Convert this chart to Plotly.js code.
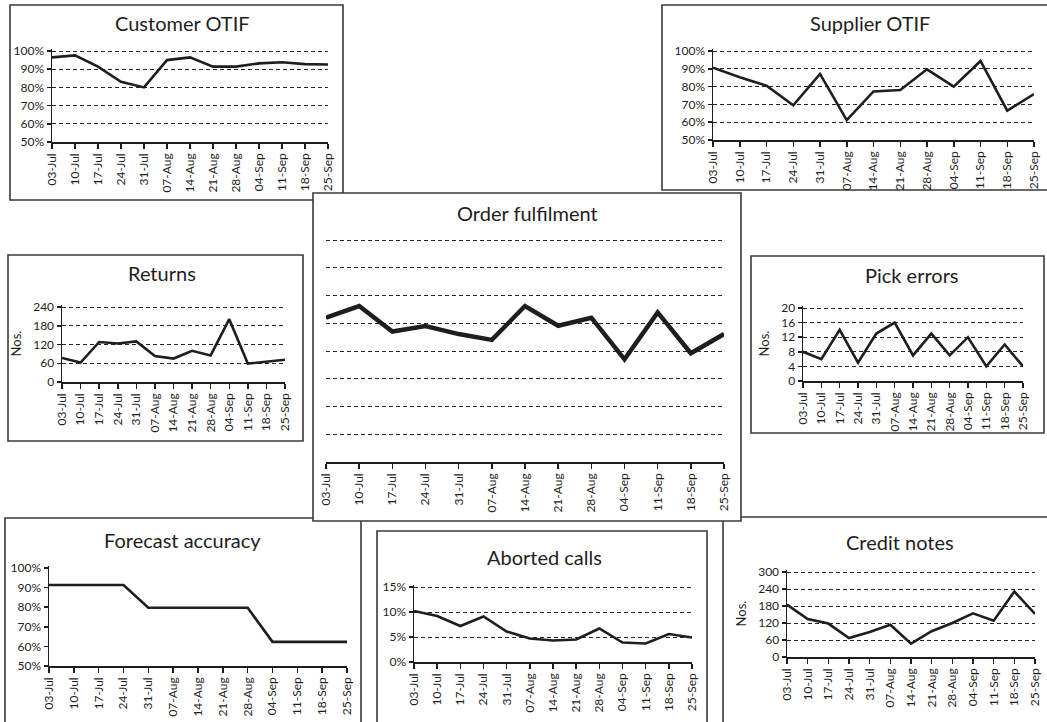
<!DOCTYPE html>
<html>
<head>
<meta charset="utf-8">
<script src="https://cdn.plot.ly/plotly-3.0.1.min.js"></script>
<style>html,body{margin:0;padding:0;background:#fff;}#chart{width:1047px;height:722px;}</style>
</head>
<body>
<div id="chart"></div>
<script>
const weeks = ['03-Jul','10-Jul','17-Jul','24-Jul','31-Jul','07-Aug','14-Aug','21-Aug','28-Aug','04-Sep','11-Sep','18-Sep','25-Sep'];

const customerOTIF = [0.965, 0.976, 0.914, 0.831, 0.800, 0.950, 0.965, 0.914, 0.914, 0.932, 0.938, 0.928, 0.926];
const supplierOTIF = [0.906, 0.852, 0.805, 0.695, 0.871, 0.612, 0.773, 0.781, 0.897, 0.800, 0.944, 0.665, 0.758];
const returnsNos   = [77, 62, 128, 123, 130, 83, 75, 100, 85, 201, 59, 65, 71];
const orderFulfil  = [5.2, 5.62, 4.70, 4.90, 4.61, 4.40, 5.62, 4.91, 5.20, 3.70, 5.39, 3.92, 4.61];
const pickErrors   = [8, 6, 14, 5, 13, 16, 7, 13, 7, 12, 4, 10, 4];
const forecastAcc  = [0.913, 0.913, 0.913, 0.913, 0.797, 0.797, 0.797, 0.797, 0.797, 0.623, 0.623, 0.623, 0.623];
const abortedCalls = [0.102, 0.092, 0.072, 0.091, 0.061, 0.047, 0.043, 0.045, 0.067, 0.039, 0.037, 0.056, 0.049];
const creditNotes  = [185, 134, 118, 67, 88, 114, 47, 91, 120, 154, 128, 231, 152];

const titles = ['Customer OTIF','Supplier OTIF','Returns','Order fulfilment','Pick errors','Forecast accuracy','Aborted calls','Credit notes'];

const W = 1047, H = 722;
const FONT = 'Lato, "Open Sans", sans-serif';
const INK = '#1e1e1e';
const PAD = 2; // px of headroom so the top gridline is drawn

// panel geometry in pixels: plot area [x0,x1],[y0(top value),y1(bottom)]
const panels = [
  {data: customerOTIF, x:[52,328],  y:[51,142],  range:[0.5,1],   dtick:0.1,  fmt:'.0%', title:[182,23],  lw:2.6},
  {data: supplierOTIF, x:[713,1034],y:[51,140],  range:[0.5,1],   dtick:0.1,  fmt:'.0%', title:[870,23],  lw:2.6},
  {data: returnsNos,   x:[62,285],  y:[307,382], range:[0,240],   dtick:60,   fmt:'',    title:[162,273], lw:2.6, nos:true},
  {data: orderFulfil,  x:[326,724], y:[240,462], range:[0,8],     dtick:1,    fmt:'',    title:[527,213], lw:4.5, hideY:true},
  {data: pickErrors,   x:[803,1023],y:[308,381], range:[0,20],    dtick:4,    fmt:'',    title:[912,275], lw:2.6, nos:true},
  {data: forecastAcc,  x:[49,347],  y:[568,666], range:[0.5,1],   dtick:0.1,  fmt:'.0%', title:[182,540], lw:2.6, noGrid:true},
  {data: abortedCalls, x:[414,692], y:[587,662], range:[0,0.15],  dtick:0.05, fmt:'.0%', title:[544,557], lw:2.6},
  {data: creditNotes,  x:[787,1035],y:[572,657], range:[0,300],   dtick:60,   fmt:'',    title:[900,542], lw:2.6, nos:true}
];

const traces = [];
const layout = {
  width: W, height: H,
  margin: {l:0, r:0, t:0, b:0},
  paper_bgcolor: '#fff',
  plot_bgcolor: 'rgba(0,0,0,0)',
  showlegend: false,
  font: {family: FONT, color: INK, size: 12},
  annotations: [],
  shapes: []
};

panels.forEach((p, i) => {
  const n = i + 1;
  const xk = n === 1 ? 'xaxis' : 'xaxis' + n;
  const yk = n === 1 ? 'yaxis' : 'yaxis' + n;
  const xr = n === 1 ? 'x' : 'x' + n;
  const yr = n === 1 ? 'y' : 'y' + n;
  traces.push({
    x: weeks, y: p.data, xaxis: xr, yaxis: yr,
    type: 'scatter', mode: 'lines',
    line: {color: INK, width: p.lw},
    hoverinfo: 'x+y'
  });
  layout[xk] = {
    domain: [p.x[0] / W, p.x[1] / W], anchor: yr,
    type: 'category', range: [0, weeks.length - 1],
    tickangle: -90, ticks: 'outside', ticklen: 5, tickwidth: 1.5, tickcolor: INK,
    showline: true, linecolor: INK, linewidth: 1.5,
    showgrid: false, zeroline: false, fixedrange: true,
    tickfont: {family: FONT, size: 12, color: INK}
  };
  const hpx = p.y[1] - p.y[0];
  const span = p.range[1] - p.range[0];
  const top = p.range[1] + span * PAD / hpx;
  const ya = {
    domain: [1 - p.y[1] / H, 1 - (p.y[0] - PAD) / H], anchor: xr,
    range: [p.range[0], top], dtick: p.dtick, tick0: 0,
    showgrid: !p.noGrid, gridcolor: '#262626', gridwidth: 1, griddash: '4px,3px',
    zeroline: false, fixedrange: true,
    tickfont: {family: FONT, size: 12, color: INK}
  };
  if (p.fmt) ya.tickformat = p.fmt;
  if (p.hideY) {
    ya.showticklabels = false; ya.showline = false; ya.ticks = '';
  } else {
    ya.showline = true; ya.linecolor = INK; ya.linewidth = 1.5;
    ya.ticks = 'outside'; ya.ticklen = 4; ya.tickwidth = 1.5; ya.tickcolor = INK;
  }
  if (p.nos) {
    ya.title = {text: 'Nos.', font: {family: FONT, size: 13, color: INK}, standoff: 8};
  }
  layout[yk] = ya;
  layout.annotations.push({
    text: titles[i], xref: 'paper', yref: 'paper',
    x: p.title[0] / W, y: 1 - p.title[1] / H,
    xanchor: 'center', yanchor: 'middle', showarrow: false,
    font: {family: FONT, size: 20, color: INK}
  });
});

// frames around panels (pixel boxes converted to paper coordinates)
const boxes = [
  [10, 5, 343, 200],
  [662, 5, 1052, 190],
  [8, 255, 303, 441],
  [751, 256, 1044, 433],
  [5, 518, 361, 730],
  [723, 517, 1052, 730],
  [377, 531, 707, 730],
  [313, 193, 741, 521]
];
boxes.forEach((b, i) => {
  layout.shapes.push({
    type: 'rect', xref: 'paper', yref: 'paper', layer: 'below',
    x0: b[0] / W, x1: b[2] / W, y0: 1 - b[3] / H, y1: 1 - b[1] / H,
    line: {color: '#3a3a3a', width: 1.6},
    fillcolor: i === boxes.length - 1 ? '#fff' : 'rgba(0,0,0,0)'
  });
});

Plotly.newPlot('chart', traces, layout, {displayModeBar: false, staticPlot: true});
</script>
</body>
</html>
